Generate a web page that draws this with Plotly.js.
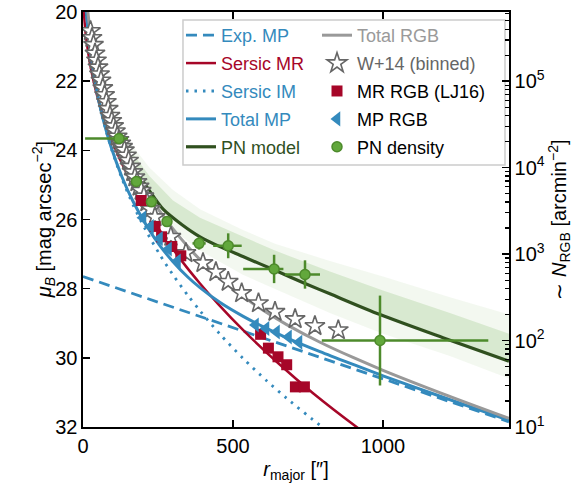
<!DOCTYPE html>
<html><head><meta charset="utf-8">
<script src="https://cdn.plot.ly/plotly-3.0.1.min.js"></script>
<style>html,body{margin:0;padding:0;background:#fff}</style>
</head><body>
<div id="chart" style="width:582px;height:494px"></div>
<script>
// ---- model curves ----
const expR = [0, 1420];
const expMu = [27.65, 31.85];

const imR  = [10, 20, 30, 47, 70, 94, 130, 167, 210, 255, 300, 350, 390, 457, 534, 612, 679, 790, 830];
const imMu = [19.86, 20.81, 21.48, 22.34, 23.21, 23.94, 24.82, 25.58, 26.32, 27.0, 27.6, 28.2, 28.64, 29.32, 30.02, 30.66, 31.17, 31.95, 32.2];

const mrR  = [2, 5, 10, 25, 50, 100, 130, 183, 250, 333, 390, 450, 534, 650, 768, 912, 1000];
const mrMu = [19.85, 20.26, 20.71, 21.57, 22.51, 23.79, 24.39, 25.29, 26.24, 27.24, 27.85, 28.44, 29.2, 30.15, 31.03, 32.0, 32.55];

const mpR  = [10, 20, 30, 47, 70, 94, 130, 167, 210, 255, 300, 350, 390, 457, 534, 612, 679, 790, 900, 1000, 1200, 1420];
const mpMu = [19.86, 20.81, 21.48, 22.33, 23.2, 23.91, 24.77, 25.48, 26.15, 26.74, 27.22, 27.67, 27.97, 28.4, 28.8, 29.15, 29.42, 29.82, 30.19, 30.52, 31.14, 31.81];

const rgbR  = [3, 10, 20, 30, 47, 70, 94, 130, 167, 210, 255, 300, 350, 390, 457, 534, 612, 679, 790, 900, 1000, 1200, 1420];
const rgbMu = [18.9, 19.45, 20.29, 20.87, 21.62, 22.39, 23.03, 23.81, 24.49, 25.14, 25.75, 26.27, 26.79, 27.16, 27.7, 28.23, 28.69, 29.04, 29.55, 29.99, 30.36, 31.04, 31.75];

const pnModR  = [10, 30, 50, 80, 120, 170, 220, 267, 330, 390, 460, 533, 640, 740, 823, 990, 1200, 1420];
const pnModMu = [20.0, 20.95, 21.7, 22.65, 23.6, 24.5, 25.15, 25.7, 26.15, 26.5, 26.8, 27.07, 27.47, 27.85, 28.15, 28.75, 29.42, 30.1];

// PN model sample bundle envelopes
const bundleR       = [5, 50, 100, 150, 222, 300, 390, 533, 640, 823, 1000, 1223, 1420];
const bundleOuterUp = [19.6, 21.4, 22.7, 23.7, 24.5, 25.15, 25.7, 26.3, 26.7, 27.2, 27.65, 28.25, 28.75];
const bundleOuterLo = [20.0, 21.9, 23.3, 24.4, 25.4, 26.3, 26.9, 27.6, 28.0, 28.7, 29.3, 29.95, 30.6];
const bundleInnerUp = [19.7, 21.55, 22.95, 23.9, 24.75, 25.45, 25.95, 26.5, 26.9, 27.5, 28.05, 28.7, 29.3];
const bundleInnerLo = [19.8, 21.7, 23.2, 24.2, 25.2, 25.95, 26.5, 27.07, 27.47, 28.15, 28.75, 29.45, 30.1];

// ---- data points ----
const w14R  = [25,30,35,40,45,50,55,60,66,72,78,84,90,96,102,108,114,120,126,132,138,145,152,159,166,173,180,187,194,203,213,225,240,293,343,400,443,484,529,585,640,707,773,851];
const w14Mu = [20.55,20.75,20.95,21.2,21.4,21.6,21.8,21.98,22.2,22.4,22.6,22.8,23.0,23.15,23.3,23.45,23.6,23.7,23.8,23.9,24.0,24.15,24.3,24.47,24.63,24.78,24.92,25.05,25.17,25.33,25.5,25.7,25.93,26.5,26.97,27.26,27.52,27.8,28.13,28.42,28.67,28.88,29.08,29.2];

const mrPtR  = [194, 240, 262, 296, 326, 592, 618, 650, 679, 708, 738];
const mrPtMu = [25.45, 26.2, 26.5, 26.78, 27.05, 29.32, 29.72, 29.97, 30.2, 30.84, 30.84];

const mpPtR  = [200, 225, 255, 285, 315, 575, 610, 645, 685, 720];
const mpPtMu = [25.95, 26.2, 26.55, 26.85, 27.2, 29.05, 29.15, 29.25, 29.4, 29.55];

const pnR     = [120, 178, 228, 280, 387, 484, 637, 740, 990];
const pnMu    = [23.66, 24.9, 25.49, 26.06, 26.69, 26.76, 27.43, 27.59, 29.5];
const pnRLo   = [113, 8, 8, 8, 22, 50, 103, 67, 194];
const pnRHi   = [30, 8, 8, 8, 22, 45, 31, 50, 361];
const pnMuErr = [0.08, 0.1, 0.1, 0.1, 0.18, 0.36, 0.41, 0.41, 1.3];

// ---- ticks ----
const xTicks = [0, 500, 1000];
const yTicks = [20, 22, 24, 26, 28, 30, 32];
const y2Ticks = [10, 100, 1000, 10000, 100000];
const y2TickText = ['10<sup>1</sup>', '10<sup>2</sup>', '10<sup>3</sup>', '10<sup>4</sup>', '10<sup>5</sup>'];
const y2Minor = [];
[10, 100, 1000, 10000, 100000].forEach(d => { for (let k = 2; k <= 9; k++) { if (d * k < 630000) y2Minor.push(d * k); } });

const BLUE = '#348ABD', RED = '#A60628', GRAY = '#999999', DGREEN = '#30501f', PNG = '#4d8a2b';

const traces = [
  { x: bundleR.concat(bundleR.slice().reverse()), y: bundleOuterUp.concat(bundleOuterLo.slice().reverse()),
    fill: 'toself', fillcolor: 'rgba(120,180,90,0.09)', line: { width: 0 }, mode: 'lines', showlegend: false, hoverinfo: 'skip' },
  { x: bundleR.concat(bundleR.slice().reverse()), y: bundleInnerUp.concat(bundleInnerLo.slice().reverse()),
    fill: 'toself', fillcolor: 'rgba(110,175,80,0.2)', line: { width: 0 }, mode: 'lines', showlegend: false, hoverinfo: 'skip' },
  { x: pnModR, y: pnModMu, mode: 'lines', line: { color: DGREEN, width: 3.2, shape: 'spline', smoothing: 0.8 },
    name: '<span style="color:#30501f">PN model</span>', legend: 'legend', legendrank: 5, legendgroup: 'a5' },
  { x: expR, y: expMu, mode: 'lines', line: { color: BLUE, width: 2.8, dash: '11px,6px' },
    name: '<span style="color:#348ABD">Exp. MP</span>', legend: 'legend', legendrank: 1, legendgroup: 'a1' },
  { x: mrR, y: mrMu, mode: 'lines', line: { color: RED, width: 2.5, shape: 'spline', smoothing: 0.8 },
    name: '<span style="color:#A60628">Sersic MR</span>', legend: 'legend', legendrank: 2, legendgroup: 'a2' },
  { x: imR, y: imMu, mode: 'lines', line: { color: BLUE, width: 2.8, dash: '2.5px,6px', shape: 'spline', smoothing: 0.8 },
    name: '<span style="color:#348ABD">Sersic IM</span>', legend: 'legend', legendrank: 3, legendgroup: 'a3' },
  { x: mpR, y: mpMu, mode: 'lines', line: { color: BLUE, width: 3, shape: 'spline', smoothing: 0.8 },
    name: '<span style="color:#348ABD">Total MP</span>', legend: 'legend', legendrank: 4, legendgroup: 'a4' },
  { x: rgbR, y: rgbMu, mode: 'lines', line: { color: GRAY, width: 3, shape: 'spline', smoothing: 0.8 },
    name: '<span style="color:#9a9a9a">Total RGB</span>', legend: 'legend2', legendrank: 1, legendgroup: 'b1' },
  { x: w14R, y: w14Mu, mode: 'markers', marker: { symbol: 'star', size: 15, color: 'white', line: { color: '#666666', width: 1.6 } },
    name: '<span style="color:#666666">W+14 (binned)</span>', legend: 'legend2', legendrank: 2, legendgroup: 'b2' },
  { x: mrPtR, y: mrPtMu, mode: 'markers', marker: { symbol: 'square', size: 11, color: RED },
    name: 'MR RGB (LJ16)', legend: 'legend2', legendrank: 3, legendgroup: 'b3' },
  { x: mpPtR, y: mpPtMu, mode: 'markers', marker: { symbol: 'triangle-left', size: 13, color: BLUE },
    name: 'MP RGB', legend: 'legend2', legendrank: 4, legendgroup: 'b4' },
  { x: pnR, y: pnMu, mode: 'markers', marker: { symbol: 'circle', size: 10, color: '#62a83c', line: { color: PNG, width: 1.5 } },
    error_x: { type: 'data', symmetric: false, array: pnRHi, arrayminus: pnRLo, color: PNG, thickness: 2.5, width: 0 },
    error_y: { type: 'data', array: pnMuErr, color: PNG, thickness: 2.5, width: 0 },
    name: 'PN density', legend: 'legend2', legendrank: 5, legendgroup: 'b5' },
  { x: [], y: [], yaxis: 'y2', mode: 'markers', showlegend: false, hoverinfo: 'skip' }
];

const axisCommon = { ticks: 'inside', ticklen: 7, tickwidth: 1.5, tickcolor: 'black', showline: true, linewidth: 1.6,
  linecolor: 'black', showgrid: false, zeroline: false };

const layout = {
  width: 582, height: 494,
  margin: { l: 83, r: 73, t: 12, b: 67 },
  paper_bgcolor: 'white', plot_bgcolor: 'white',
  font: { family: 'Liberation Sans, Arial, sans-serif', size: 20, color: 'black' },
  xaxis: Object.assign({}, axisCommon, { range: [0, 1420], tickmode: 'array', tickvals: xTicks, mirror: 'ticks',
    title: { text: '<i>r</i><sub>major</sub> [″]', font: { size: 20 }, standoff: 6 } }),
  yaxis: Object.assign({}, axisCommon, { range: [32, 20], tickmode: 'array', tickvals: yTicks, mirror: false }),
  yaxis2: Object.assign({}, axisCommon, { overlaying: 'y', side: 'right', type: 'log', range: [1, 5.8],
    tickmode: 'array', tickvals: y2Ticks, ticktext: y2TickText,
    minor: { tickmode: 'array', tickvals: y2Minor, ticks: 'inside', ticklen: 4, tickwidth: 1.2, tickcolor: 'black' },
    title: { text: '∼ <i>N</i><sub>RGB</sub> [arcmin<sup>−2</sup>]', font: { size: 20 }, standoff: 8 } }),
  annotations: [{ xref: 'paper', yref: 'paper', x: -0.092, y: 0.5, xanchor: 'center', yanchor: 'middle',
    textangle: -90, showarrow: false, font: { size: 20 },
    text: '<i>μ</i><sub><i>B</i></sub> [mag arcsec<sup>−2</sup>]' }],
  legend: { x: 0.230, y: 0.988, xanchor: 'left', yanchor: 'top', bgcolor: 'rgba(0,0,0,0)', borderwidth: 0,
    font: { size: 18, color: 'black' }, tracegroupgap: 1.5, traceorder: 'grouped' },
  legend2: { x: 0.5493, y: 0.988, xanchor: 'left', yanchor: 'top', bgcolor: 'rgba(0,0,0,0)', borderwidth: 0,
    font: { size: 18, color: 'black' }, tracegroupgap: 1.5, traceorder: 'grouped' },
  shapes: [{ type: 'rect', xref: 'paper', yref: 'paper', x0: 0.2347, x1: 0.9906, y0: 0.6313, y1: 0.9807,
    line: { color: '#cccccc', width: 1.5 }, fillcolor: 'white', layer: 'below' }],
  showlegend: true
};

Plotly.newPlot('chart', traces, layout, { staticPlot: true, displayModeBar: false });
</script>
</body></html>
